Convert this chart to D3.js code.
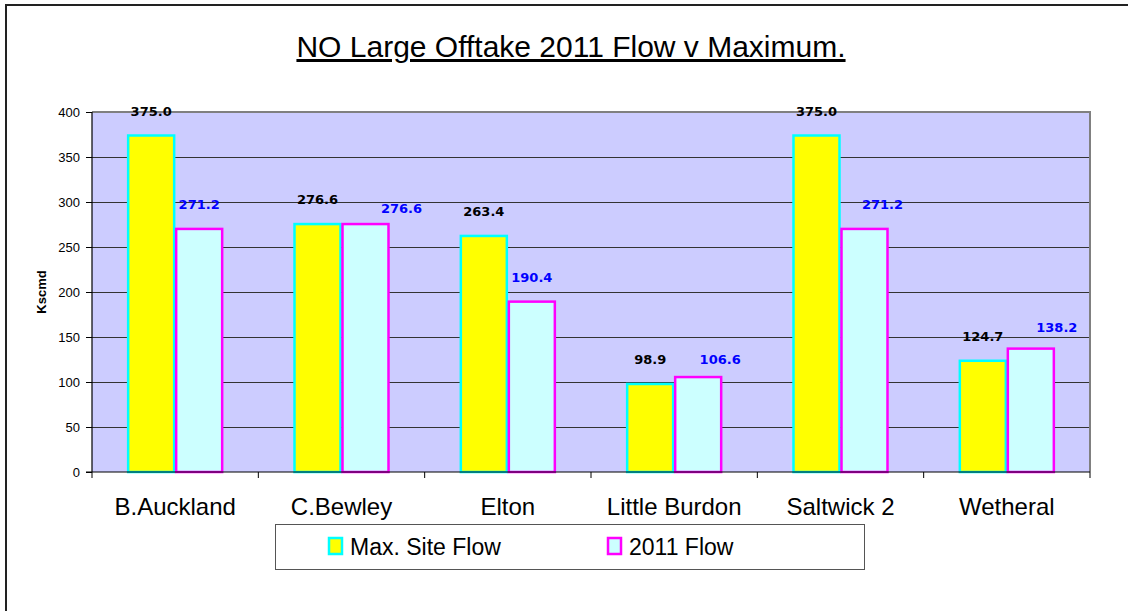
<!DOCTYPE html>
<html><head><meta charset="utf-8">
<script src="https://cdn.jsdelivr.net/npm/d3@7"></script>
<style>body{margin:0;background:#fff;} svg{display:block;}</style>
</head><body>
<svg id="chart" width="1128" height="611"></svg>
<script>
const categories = ["B.Auckland","C.Bewley","Elton","Little Burdon","Saltwick 2","Wetheral"];
const maxSiteFlow = [375.0, 276.6, 263.4, 98.9, 375.0, 124.7];
const flow2011 = [271.2, 276.6, 190.4, 106.6, 271.2, 138.2];
const seriesNames = ["Max. Site Flow", "2011 Flow"];
const yTicks = [0,50,100,150,200,250,300,350,400];
// label nudges (px) as placed manually in the source chart
const nudge2011dx = [0, 36, 0, 22, 18, 26];
const nudge2011dy = [0, 9, 0, 7, 0, 3.5];

const svg = d3.select("#chart");
const plot = {left: 92, right: 1090, top: 112, bottom: 472};

// chart border
svg.append("rect").attr("x",6).attr("y",5).attr("width",1130).attr("height",620)
  .attr("fill","none").attr("stroke","#222").attr("stroke-width",2);

// title
svg.append("text").attr("x",571).attr("y",57).attr("text-anchor","middle")
  .attr("font-family","Liberation Sans, Arial, sans-serif").attr("font-size",30)
  .attr("text-decoration","underline").attr("fill","#000")
  .text("NO Large Offtake 2011 Flow v Maximum.");

const y = d3.scaleLinear().domain([0,400]).range([plot.bottom, plot.top]);
const x0 = d3.scaleBand().domain(categories).range([plot.left, plot.right])
  .paddingInner(0.4228).paddingOuter(0.2114);
const x1 = d3.scaleBand().domain(seriesNames).range([0, x0.bandwidth()]);

// plot background
svg.append("rect").attr("x",plot.left).attr("y",plot.top)
  .attr("width",plot.right-plot.left).attr("height",plot.bottom-plot.top)
  .attr("fill","#CCCCFF");

// gridlines
svg.append("g").selectAll("line").data(yTicks.filter(d=>d>0 && d<400)).join("line")
  .attr("x1",plot.left).attr("x2",plot.right)
  .attr("y1",d=>Math.round(y(d))+0.5).attr("y2",d=>Math.round(y(d))+0.5)
  .attr("stroke","#333").attr("stroke-width",1);

// top & right plot border (gray)
svg.append("path")
  .attr("d",`M${plot.left},${plot.top}H${plot.right}V${plot.bottom}`)
  .attr("fill","none").attr("stroke","#808080").attr("stroke-width",2);

// bars
const styles = [
  {fill:"#FFFF00", stroke:"#00FFFF", color:"#000"},
  {fill:"#CCFFFF", stroke:"#FF00FF", color:"#0000FF"}
];
const seriesData = [maxSiteFlow, flow2011];
seriesData.forEach((vals, si) => {
  svg.append("g").selectAll("rect").data(vals).join("rect")
    .attr("x", (d,i)=>x0(categories[i]) + x1(seriesNames[si]) + 1)
    .attr("y", d=>y(d)+1)
    .attr("width", x1.bandwidth()-2)
    .attr("height", d=>y(0)-y(d)-1)
    .attr("fill", styles[si].fill)
    .attr("stroke", styles[si].stroke)
    .attr("stroke-width", 2.5);
});

// axes
const yAxis = d3.axisLeft(y).tickValues(yTicks).tickSize(6).tickPadding(6).tickFormat(d3.format("d"));
const gy = svg.append("g").attr("transform",`translate(${plot.left},0)`).call(yAxis);
gy.select(".domain").attr("stroke","#000").attr("stroke-width",1.2).attr("d",`M0,${plot.top}V${plot.bottom}`);
gy.selectAll(".tick line").attr("stroke","#000");
gy.selectAll("text").attr("font-family","Liberation Sans, Arial, sans-serif").attr("font-size",13).attr("fill","#000");

// x axis: ticks at category boundaries
const step = x0.step();
const boundaries = d3.range(categories.length+1).map(i => plot.left + i*step);
const gx = svg.append("g");
gx.append("line").attr("x1",plot.left-6).attr("x2",plot.right).attr("y1",plot.bottom).attr("y2",plot.bottom)
  .attr("stroke","#000").attr("stroke-width",1.2);
gx.selectAll("line.tk").data(boundaries).join("line").attr("class","tk")
  .attr("x1",d=>d).attr("x2",d=>d).attr("y1",plot.bottom).attr("y2",plot.bottom+6)
  .attr("stroke","#000");
gx.selectAll("text").data(categories).join("text")
  .attr("x",d=>x0(d)+x0.bandwidth()/2).attr("y",515)
  .attr("text-anchor","middle")
  .attr("font-family","Liberation Sans, Arial, sans-serif").attr("font-size",24)
  .attr("fill","#000").text(d=>d);

// y axis title
svg.append("text").attr("transform","translate(46,292) rotate(-90)")
  .attr("text-anchor","middle").attr("font-family","Liberation Sans, Arial, sans-serif")
  .attr("font-size",13).attr("font-weight","bold").text("Kscmd");

// data labels
seriesData.forEach((vals, si) => {
  svg.append("g").selectAll("text").data(vals).join("text")
    .attr("x",(d,i)=>x0(categories[i]) + x1(seriesNames[si]) + x1.bandwidth()/2 + (si===1?nudge2011dx[i]:0))
    .attr("y",(d,i)=>y(d) - 19 + (si===1?nudge2011dy[i]:0))
    .attr("text-anchor","middle")
    .attr("font-family","DejaVu Sans, sans-serif").attr("font-weight","bold").attr("font-size",13)
    .attr("fill",styles[si].color)
    .text(d=>d3.format(".1f")(d));
});

// legend
const lg = svg.append("g");
lg.append("rect").attr("x",275.5).attr("y",524.5).attr("width",589).attr("height",45)
  .attr("fill","#fff").attr("stroke","#555").attr("stroke-width",1);
const legX = [329, 608];
seriesNames.forEach((name, si) => {
  lg.append("rect").attr("x",legX[si]).attr("y",538).attr("width",13).attr("height",16)
    .attr("fill",styles[si].fill).attr("stroke",styles[si].stroke).attr("stroke-width",2.5);
  lg.append("text").attr("x",legX[si]+21).attr("y",555)
    .attr("font-family","Liberation Sans, Arial, sans-serif").attr("font-size",23)
    .attr("fill","#000").text(name);
});
</script>
</body></html>
